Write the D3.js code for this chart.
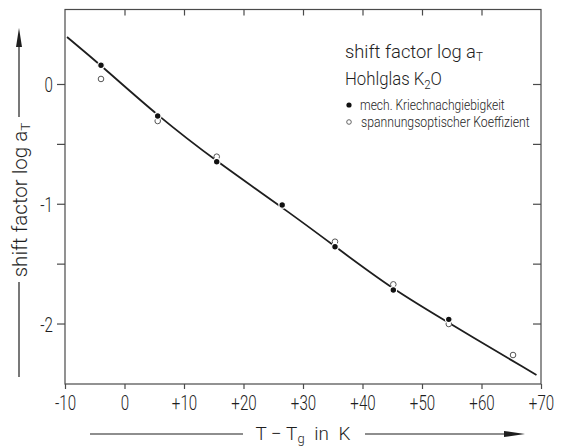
<!DOCTYPE html>
<html>
<head>
<meta charset="utf-8">
<script src="https://cdn.jsdelivr.net/npm/d3@7"></script>
<style>
  html, body { margin: 0; padding: 0; background: #fff; }
  svg { display: block; }
  text { font-family: Roboto, 'DejaVu Sans', sans-serif; font-weight: 300; fill: #1e1e1e; }
</style>
</head>
<body>
<script>
// data
const xTicks = [-10, 0, 10, 20, 30, 40, 50, 60, 70];
const xTickLabels = ["-10", "0", "+10", "+20", "+30", "+40", "+50", "+60", "+70"];
const yTicks = [0, -0.5, -1, -1.5, -2];
const yTickLabels = ["0", "", "-1", "", "-2"];

const filledX = [-3.95, 5.58, 15.5, 26.5, 35.38, 45.18, 54.5];
const filledY = [0.156, -0.267, -0.649, -1.01, -1.359, -1.72, -1.965];
const openX = [-3.95, 5.58, 15.5, 35.38, 45.18, 54.5, 65.3];
const openY = [0.042, -0.309, -0.607, -1.317, -1.673, -2.004, -2.263];

const curveX = [-9.66, -3.95, 5.58, 15.5, 27.8, 35.38, 45.18, 54.5, 69.24];
const curveY = [0.392, 0.156, -0.267, -0.649, -1.075, -1.357, -1.718, -1.995, -2.43];

const W = 564, H = 447;
const mLeft = 65, mRight = 541, mTop = 9.5, mBottom = 384;

const svg = d3.select("body").append("svg")
  .attr("width", W)
  .attr("height", H);

const x = d3.scaleLinear().domain([-10, 70]).range([mLeft, mRight]);
const y = d3.scaleLinear().domain([-2.505, 0.622]).range([mBottom, mTop]);

const ink = "#1e1e1e";
const frameInk = "#4a4a4a";

// narrow the lettering to look like the condensed drawing font
function squeeze(sel, x0, width) {
  const w = sel.node().getBBox().width;
  sel.attr("transform", `translate(${x0},0) scale(${width / w},1) translate(${-x0},0)`);
}

// frame
svg.append("rect")
  .attr("x", mLeft).attr("y", mTop)
  .attr("width", mRight - mLeft).attr("height", mBottom - mTop)
  .attr("fill", "none").attr("stroke", frameInk).attr("stroke-width", 1.2);

// bottom axis
const gx = svg.append("g")
  .attr("transform", `translate(0,${mBottom})`)
  .call(d3.axisBottom(x).tickValues(xTicks).tickSize(5).tickPadding(6)
    .tickFormat((d, i) => xTickLabels[i]));
// top ticks inward
const gxt = svg.append("g")
  .attr("transform", `translate(0,${mTop})`)
  .call(d3.axisTop(x).tickValues(xTicks.slice(1, -1)).tickSize(-6).tickFormat(""));
// left axis
const gy = svg.append("g")
  .attr("transform", `translate(${mLeft},0)`)
  .call(d3.axisLeft(y).tickValues(yTicks).tickSize(8).tickPadding(4)
    .tickFormat((d, i) => yTickLabels[i]));
// right ticks inward
const gyr = svg.append("g")
  .attr("transform", `translate(${mRight},0)`)
  .call(d3.axisRight(y).tickValues(yTicks).tickSize(-8).tickFormat(""));

[gx, gxt, gy, gyr].forEach(g => {
  g.select(".domain").remove();
  g.selectAll(".tick line").attr("stroke", frameInk).attr("stroke-width", 1.2);
  g.selectAll(".tick text").attr("fill", ink).style("font-size", "21px")
    .attr("font-family", null);
});
gx.selectAll(".tick text").attr("transform", "scale(0.72,1)");
gy.selectAll(".tick text").attr("x", 0).attr("dy", "0.36em")
  .attr("transform", "translate(-12,0) scale(0.72,1)");

// fitted curve
const line = d3.line()
  .x(d => x(d[0]))
  .y(d => y(d[1]))
  .curve(d3.curveBasis);
svg.append("path")
  .datum(curveX.map((v, i) => [v, curveY[i]]))
  .attr("d", line)
  .attr("fill", "none")
  .attr("stroke", ink)
  .attr("stroke-width", 1.8);

// open circles
svg.selectAll("circle.open")
  .data(openX.map((v, i) => [v, openY[i]]))
  .enter().append("circle")
  .attr("class", "open")
  .attr("cx", d => x(d[0]))
  .attr("cy", d => y(d[1]))
  .attr("r", 2.8)
  .attr("fill", "#fff")
  .attr("stroke", "#555")
  .attr("stroke-width", 1);

// filled circles with white halo
svg.selectAll("circle.filled")
  .data(filledX.map((v, i) => [v, filledY[i]]))
  .enter().append("circle")
  .attr("class", "filled")
  .attr("cx", d => x(d[0]))
  .attr("cy", d => y(d[1]))
  .attr("r", 3.3)
  .attr("fill", "#111")
  .attr("stroke", "#fff")
  .attr("stroke-width", 1.2);

// legend
const lg = svg.append("g");
const t1 = lg.append("text").attr("x", 345).attr("y", 58).style("font-size", "19px");
t1.append("tspan").text("shift factor log a");
t1.append("tspan").attr("dy", 3).style("font-size", "12px").text("T");
squeeze(t1, 345, 138);
const t2 = lg.append("text").attr("x", 345).attr("y", 85).style("font-size", "19px");
t2.append("tspan").text("Hohlglas K");
t2.append("tspan").attr("dy", 4).style("font-size", "13px").text("2");
t2.append("tspan").attr("dy", -4).text("O");
squeeze(t2, 345, 97);

lg.append("circle").attr("cx", 349).attr("cy", 105).attr("r", 2.6).attr("fill", "#111");
const l1 = lg.append("text").attr("x", 360).attr("y", 110).style("font-size", "15px")
  .text("mech. Kriechnachgiebigkeit");
squeeze(l1, 360, 145);
lg.append("circle").attr("cx", 349).attr("cy", 122).attr("r", 2.3)
  .attr("fill", "#fff").attr("stroke", "#555").attr("stroke-width", 0.9);
const l2 = lg.append("text").attr("x", 361).attr("y", 127).style("font-size", "15px")
  .text("spannungsoptischer Koeffizient");
squeeze(l2, 361, 169);

// y axis title with arrow
const yt = svg.append("text")
  .attr("text-anchor", "middle")
  .style("font-size", "20px");
yt.append("tspan").text("shift factor log a");
yt.append("tspan").attr("dy", 3).style("font-size", "13px").text("T");
const ytw = yt.node().getBBox().width;
yt.attr("transform", `translate(27,200) rotate(-90) scale(${155 / ytw},1)`);

svg.append("line").attr("x1", 19).attr("x2", 19).attr("y1", 377).attr("y2", 282)
  .attr("stroke", ink).attr("stroke-width", 1.2);
svg.append("line").attr("x1", 19).attr("x2", 19).attr("y1", 117).attr("y2", 44)
  .attr("stroke", ink).attr("stroke-width", 1.2);
svg.append("path").attr("d", "M19,28 L22,47 L16,47 Z").attr("fill", ink);

// x axis title with arrow
const xt = svg.append("text")
  .attr("x", 303).attr("y", 440)
  .attr("text-anchor", "middle")
  .style("font-size", "19px");
xt.append("tspan").text("T \u2212 T");
xt.append("tspan").attr("dy", 3).style("font-size", "13px").text("g");
xt.append("tspan").attr("dy", -3).text("\u2002in\u2002K");
squeeze(xt, 303, 95);

svg.append("line").attr("x1", 90).attr("x2", 243).attr("y1", 434).attr("y2", 434)
  .attr("stroke", ink).attr("stroke-width", 1.2);
svg.append("line").attr("x1", 365).attr("x2", 508).attr("y1", 434).attr("y2", 434)
  .attr("stroke", ink).attr("stroke-width", 1.2);
svg.append("path").attr("d", "M525,434 L504,431 L504,437 Z").attr("fill", ink);
</script>
</body>
</html>
